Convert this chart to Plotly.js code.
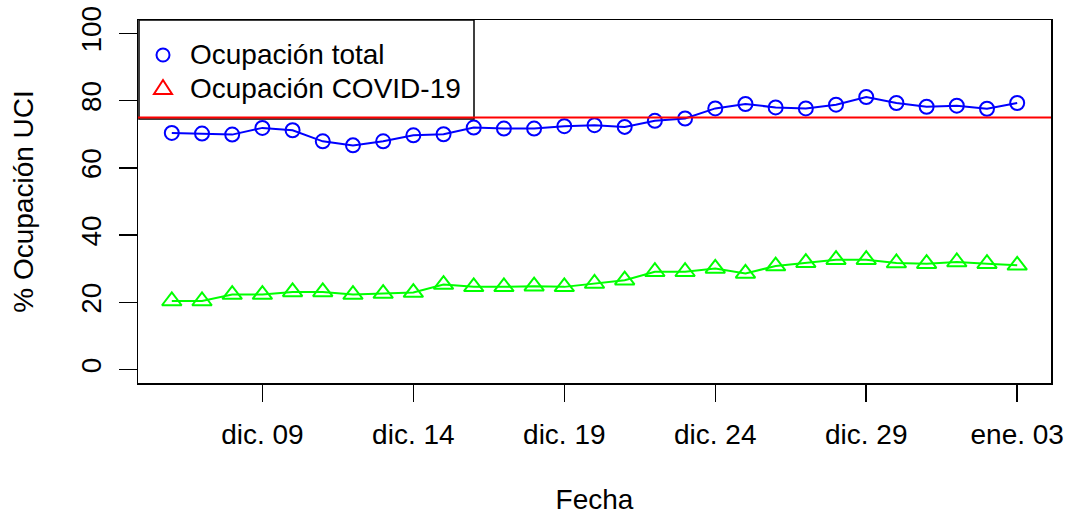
<!DOCTYPE html>
<html>
<head>
<meta charset="utf-8">
<script src="https://cdn.plot.ly/plotly-3.0.1.min.js"></script>
<style>html,body{margin:0;padding:0;background:#fff;}#chart{width:1068px;height:515px;}</style>
</head>
<body>
<div id="chart"></div>
<script>
const dates = ['2020-12-06','2020-12-07','2020-12-08','2020-12-09','2020-12-10','2020-12-11','2020-12-12','2020-12-13','2020-12-14','2020-12-15','2020-12-16','2020-12-17','2020-12-18','2020-12-19','2020-12-20','2020-12-21','2020-12-22','2020-12-23','2020-12-24','2020-12-25','2020-12-26','2020-12-27','2020-12-28','2020-12-29','2020-12-30','2020-12-31','2021-01-01','2021-01-02','2021-01-03'];
const totalOcc = [70.4,70.2,69.9,71.9,71.2,67.9,66.7,67.9,69.7,70.0,72.0,71.7,71.7,72.4,72.7,72.2,74.0,74.7,77.7,79.0,78.0,77.7,78.8,81.1,79.3,78.2,78.5,77.6,79.3];
const covidOcc = [20.4,20.4,22.3,22.3,23.1,23.1,22.3,22.6,22.9,25.3,24.6,24.6,24.8,24.6,25.6,26.6,29.1,29.1,30.1,28.6,30.8,31.8,32.7,32.7,31.7,31.5,32.0,31.5,31.0];
const threshold = 75;
const tickDates = ['2020-12-09','2020-12-14','2020-12-19','2020-12-24','2020-12-29','2021-01-03'];
const tickLabels = ['dic. 09','dic. 14','dic. 19','dic. 24','dic. 29','ene. 03'];
const yTicks = [0,20,40,60,80,100];
const legendLabels = ['Ocupación total','Ocupación COVID-19'];

const FONT = 'Liberation Sans, Arial, sans-serif';
const FS = 28;
const t0 = Date.parse(dates[0]), t1 = Date.parse(dates[dates.length-1]);
const pad = (t1 - t0) * 0.04;

const traces = [
  {x: dates, y: totalOcc, type:'scatter', mode:'lines+markers',
   line:{color:'#0000FF', width:2},
   marker:{symbol:'circle-open', size:14, color:'#0000FF', line:{width:2}},
   showlegend:false, hoverinfo:'skip'},
  {x: dates, y: covidOcc, type:'scatter', mode:'lines+markers',
   line:{color:'#00FF00', width:2},
   marker:{symbol:'triangle-up-open', size:17, color:'#00FF00', line:{width:2}},
   showlegend:false, hoverinfo:'skip'}
];

const L = 138, R = 1051, T = 20, B = 383;
const px = x => (x - L) / (R - L);
const py = y => (B - y) / (B - T);

const layout = {
  width:1068, height:515,
  margin:{l:L, r:1068-R, t:T, b:515-B, pad:0},
  paper_bgcolor:'#fff', plot_bgcolor:'#fff',
  font:{family:FONT, size:FS, color:'#000'},
  showlegend:false,
  xaxis:{type:'date', range:[t0 - pad, t1 + pad], tickvals:tickDates, ticktext:tickLabels,
    showgrid:false, zeroline:false, showline:true, mirror:true, linecolor:'#000', linewidth:1.5,
    ticks:'outside', ticklen:17, tickwidth:1.5, tickcolor:'#000', ticklabelstandoff:9,
    tickfont:{family:FONT, size:FS, color:'#000'},
    title:{text:'Fecha', font:{family:FONT, size:FS, color:'#000'}, standoff:42}},
  yaxis:{range:[-4,104], tickvals:yTicks, ticktext:yTicks.map(String), tickangle:-90,
    showgrid:false, zeroline:false, showline:true, mirror:true, linecolor:'#000', linewidth:1.5,
    ticks:'outside', ticklen:18, tickwidth:1.5, tickcolor:'#000', ticklabelstandoff:6,
    tickfont:{family:FONT, size:FS, color:'#000'},
    title:{text:'% Ocupación UCI', font:{family:FONT, size:FS, color:'#000'}, standoff:34}},
  shapes:[
    {type:'rect', xref:'paper', yref:'paper', x0:px(139), x1:px(474), y0:py(119), y1:1,
     line:{color:'#000', width:1.5}, fillcolor:'#fff', layer:'above'},
    {type:'circle', xref:'paper', yref:'paper', xsizemode:'pixel', ysizemode:'pixel',
     xanchor:px(163), yanchor:py(55), x0:-6.5, x1:6.5, y0:-6.5, y1:6.5,
     line:{color:'#0000FF', width:2}, layer:'above'},
    {type:'path', xref:'paper', yref:'paper', xsizemode:'pixel', ysizemode:'pixel',
     xanchor:px(163), yanchor:py(88), path:'M -9,-6 L 9,-6 L 0,8 Z',
     line:{color:'#FF0000', width:2}, layer:'above'},
    {type:'line', xref:'paper', yref:'y', x0:0, x1:1, y0:threshold, y1:threshold,
     line:{color:'#FF0000', width:2}, layer:'above'}
  ],
  annotations:[
    {xref:'paper', yref:'paper', x:px(188), y:py(55), xanchor:'left', yanchor:'middle',
     text:legendLabels[0], showarrow:false, font:{family:FONT, size:FS, color:'#000'}},
    {xref:'paper', yref:'paper', x:px(188), y:py(88), xanchor:'left', yanchor:'middle',
     text:legendLabels[1], showarrow:false, font:{family:FONT, size:FS, color:'#000'}}
  ]
};

Plotly.newPlot('chart', traces, layout, {displayModeBar:false, staticPlot:true});
</script>
</body>
</html>
